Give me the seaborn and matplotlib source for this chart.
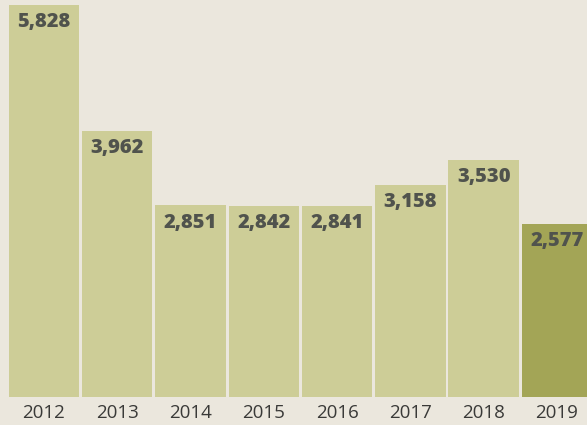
import matplotlib
matplotlib.use("Agg")
import matplotlib.pyplot as plt
import seaborn as sns
import pandas as pd

years = ["2012", "2013", "2014", "2015", "2016", "2017", "2018", "2019"]
values = [5828, 3962, 2851, 2842, 2841, 3158, 3530, 2577]
labels = ["5,828", "3,962", "2,851", "2,842", "2,841", "3,158", "3,530", "2,577"]

df = pd.DataFrame({"year": years, "value": values})

sns.set_style("white")
plt.rcParams["font.family"] = ["Open Sans", "DejaVu Sans"]

bg = "#ebe7dd"
fig = plt.figure(figsize=(5.87, 4.25), dpi=100, facecolor=bg)
ax = fig.add_axes([0, 0.066, 1, 0.922])
ax.set_facecolor(bg)

palette = ["#cdcd97"] * 7 + ["#a3a556"]
sns.barplot(data=df, x="year", y="value", hue="year", palette=palette,
            legend=False, width=0.96, saturation=1, linewidth=0, ax=ax)

ax.set_xlim(-0.6, 7.41)
ax.set_ylim(0, 5828)
for i, (v, lab) in enumerate(zip(values, labels)):
    ax.text(i, v - 110, lab, ha="center", va="top", fontsize=14.5,
            fontweight="heavy", color="#50534d")

ax.set_xlabel("")
ax.set_ylabel("")
ax.set_yticks([])
ax.tick_params(axis="x", length=0, pad=5, labelsize=13.5, labelcolor="#3a3a38")
for s in ax.spines.values():
    s.set_visible(False)

fig.savefig("out.png", dpi=100, facecolor=bg)
